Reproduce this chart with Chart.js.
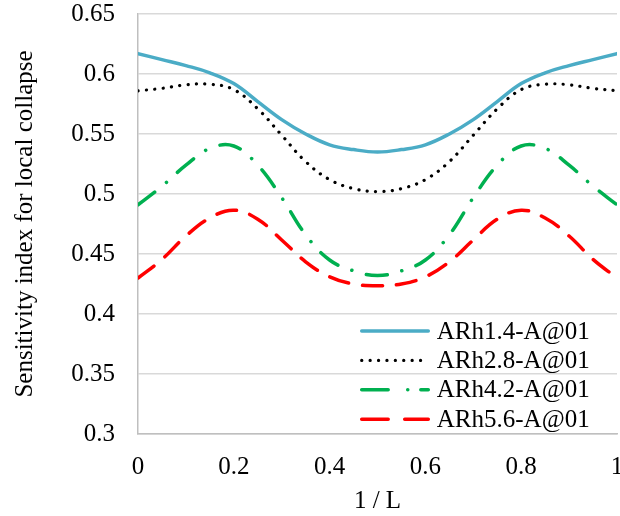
<!DOCTYPE html>
<html>
<head>
<meta charset="utf-8">
<script src="https://cdn.jsdelivr.net/npm/chart.js@4.4.1/dist/chart.umd.min.js"></script>
<style>
  html, body { margin: 0; padding: 0; background: #fff; }
  #wrap { width: 620px; height: 516px; }
</style>
</head>
<body>
<div id="wrap"><canvas id="chart" width="620" height="516"></canvas></div>
<script>
// positions along the member (1 / L)
const xValues = [0, 0.05, 0.1, 0.15, 0.2, 0.25, 0.3, 0.35, 0.4, 0.45, 0.5,
                 0.55, 0.6, 0.65, 0.7, 0.75, 0.8, 0.85, 0.9, 0.95, 1];

const arh14 = [0.617, 0.612, 0.607, 0.601, 0.592, 0.577, 0.562, 0.550, 0.541, 0.537, 0.535,
               0.537, 0.541, 0.550, 0.562, 0.577, 0.592, 0.601, 0.607, 0.612, 0.617];
const arh28 = [0.586, 0.588, 0.591, 0.5915, 0.587, 0.571, 0.549, 0.527, 0.512, 0.5045, 0.502,
               0.5045, 0.512, 0.527, 0.549, 0.571, 0.587, 0.5915, 0.591, 0.588, 0.586];
const arh42 = [0.491, 0.5065, 0.524, 0.538, 0.540, 0.524, 0.497, 0.466, 0.445, 0.436, 0.432,
               0.436, 0.445, 0.466, 0.497, 0.524, 0.540, 0.538, 0.524, 0.5065, 0.491];
const arh56 = [0.430, 0.4455, 0.465, 0.480, 0.4865, 0.479, 0.4617, 0.4435, 0.431, 0.425, 0.4235,
               0.425, 0.431, 0.4435, 0.4617, 0.479, 0.4865, 0.480, 0.465, 0.4455, 0.430];

const seriesNames = ["ARh1.4-A@01", "ARh2.8-A@01", "ARh4.2-A@01", "ARh5.6-A@01"];
const yTickLabels = ["0.3", "0.35", "0.4", "0.45", "0.5", "0.55", "0.6", "0.65"];
const xTickLabels = ["0", "0.2", "0.4", "0.6", "0.8", "1"];

const FONT = "'Liberation Serif', 'Times New Roman', serif";

function pts(ys) {
  return xValues.map((x, i) => ({ x: x, y: ys[i] }));
}

// line look: plot dash and the (longer) legend sample dash
const styles = [
  { color: "#4BACC6", width: 3.5, dash: [], legendDash: [] },
  { color: "#000000", width: 3.2, dash: [0.1, 8.3], legendDash: [0.1, 8.3] },
  { color: "#00B050", width: 3.5, dash: [21, 15, 0.1, 15], legendDash: [26.5, 19.5, 0.1, 13] },
  { color: "#FF0000", width: 3.5, dash: [20, 14], legendDash: [26.5, 16.5] }
];

const datasets = [arh14, arh28, arh42, arh56].map((ys, i) => ({
  label: seriesNames[i],
  data: pts(ys),
  borderColor: styles[i].color,
  borderWidth: styles[i].width,
  borderDash: styles[i].dash,
  borderCapStyle: "round",
  pointRadius: 0,
  tension: 0.4,
  fill: false
}));

// legend drawn inside the plot area, bottom right
const insideLegend = {
  id: "insideLegend",
  afterDatasetsDraw(chart) {
    const ctx = chart.ctx;
    const area = chart.chartArea;
    const x0 = area.right - 255.3;
    const x1 = area.right - 188.7;
    ctx.save();
    ctx.font = "25px " + FONT;
    ctx.textBaseline = "middle";
    ctx.textAlign = "left";
    chart.data.datasets.forEach((ds, i) => {
      const y = area.bottom - 103 + i * 29.4;
      ctx.beginPath();
      ctx.strokeStyle = ds.borderColor;
      ctx.lineWidth = ds.borderWidth;
      ctx.lineCap = "round";
      ctx.setLineDash(styles[i].legendDash);
      ctx.moveTo(x0, y);
      ctx.lineTo(x1, y);
      ctx.stroke();
      ctx.setLineDash([]);
      ctx.fillStyle = "#000";
      ctx.fillText(ds.label, x1 + 8.5, y + 1);
    });
    ctx.restore();
  }
};

new Chart(document.getElementById("chart").getContext("2d"), {
  type: "line",
  data: { datasets: datasets },
  options: {
    responsive: false,
    animation: false,
    layout: { padding: { top: 14, right: 3, left: 0, bottom: 0 } },
    plugins: { legend: { display: false }, tooltip: { enabled: false } },
    scales: {
      x: {
        type: "linear",
        min: 0, max: 1,
        ticks: {
          stepSize: 0.2,
          color: "#000",
          padding: 18,
          font: { family: FONT, size: 25 },
          callback: (v, i) => xTickLabels[i]
        },
        grid: { display: false, drawTicks: false },
        border: { display: true, color: "#BFBFBF", width: 1.5 },
        title: {
          display: true, text: "1 / L", color: "#000",
          font: { family: FONT, size: 25 },
          padding: { top: 0, bottom: 0 }
        },
        afterFit(scale) {
          scale.height = 82;
          scale.paddingLeft = 0;
          scale.paddingRight = 0;
        }
      },
      y: {
        min: 0.3, max: 0.65,
        ticks: {
          stepSize: 0.05,
          color: "#000",
          padding: 23,
          font: { family: FONT, size: 25 },
          callback: (v, i) => yTickLabels[i]
        },
        grid: { color: "#D9D9D9", lineWidth: 1.5, drawTicks: false },
        border: { display: true, color: "#BFBFBF", width: 1.5 },
        title: {
          display: true, text: "Sensitivity index for local collapse", color: "#000",
          font: { family: FONT, size: 25 },
          padding: { top: 10, bottom: 0 }
        },
        afterFit(scale) {
          scale.width = 138;
          scale.paddingTop = 0;
          scale.paddingBottom = 0;
        }
      }
    }
  },
  plugins: [insideLegend]
});
</script>
</body>
</html>
